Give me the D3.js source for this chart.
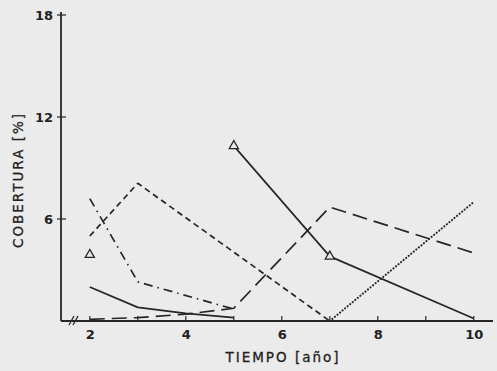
<!DOCTYPE html>
<html><head><meta charset="utf-8">
<script src="https://cdn.jsdelivr.net/npm/d3@7"></script>
<style>
html,body{margin:0;padding:0;background:#ebebeb;}
svg{display:block;}
text{font-family:"DejaVu Sans",sans-serif;fill:#222;}
</style></head><body>
<svg id="c" width="497" height="371"></svg>
<script>
const xTicks = [2, 4, 6, 8, 10];
const xMinorTicks = [3, 5, 7, 9];
const yTicks = [6, 12, 18];
// series values [year, cover %]
const shortDash = [[2, 5.0], [3, 8.1], [7, 0.0]];
const dashDot = [[2, 7.2], [3, 2.3], [5, 0.7]];
const solidLow = [[2, 2.0], [3, 0.8], [4, 0.45], [5, 0.2]];
const longDash = [[2, 0.1], [3, 0.2], [4, 0.4], [5, 0.75], [7, 6.7], [10, 4.0]];
const solidTri = [[5, 10.3], [7, 3.8], [10, 0.15]];
const triPoints = [[2, 3.9], [5, 10.3], [7, 3.8]];
const dotted = [[7, 0.0], [10, 7.0]];

const svg = d3.select("#c");
const x = d3.scaleLinear().domain([1.4, 10.4]).range([61, 493]);
const y = d3.scaleLinear().domain([0, 18]).range([321, 15]);
const ink = "#262626";

// axes
const gx = svg.append("g").attr("transform", "translate(0," + y(0) + ")");
gx.call(d3.axisBottom(x).tickValues(xTicks).tickSize(0).tickPadding(9).tickFormat(d3.format("d")));
gx.select(".domain").remove();
gx.selectAll("text").attr("font-size", 13).attr("font-weight", "bold").attr("fill", "#222");
svg.append("line").attr("x1", x(1.4)).attr("x2", 493).attr("y1", y(0)).attr("y2", y(0))
  .attr("stroke", ink).attr("stroke-width", 1.8);
svg.selectAll(".xt").data(xTicks.concat(xMinorTicks)).enter().append("line")
  .attr("x1", d => x(d)).attr("x2", d => x(d)).attr("y1", y(0)).attr("y2", y(0) - 5)
  .attr("stroke", ink).attr("stroke-width", 1.2);

const gy = svg.append("g").attr("transform", "translate(" + x(1.4) + ",0)");
gy.call(d3.axisLeft(y).tickValues(yTicks).tickSize(0).tickPadding(8).tickFormat(d3.format("d")));
gy.select(".domain").remove();
gy.selectAll("text").attr("font-size", 13).attr("font-weight", "bold").attr("fill", "#222");
svg.append("line").attr("x1", x(1.4)).attr("x2", x(1.4)).attr("y1", 12).attr("y2", y(0))
  .attr("stroke", ink).attr("stroke-width", 1.8);
svg.selectAll(".yt").data(yTicks).enter().append("line")
  .attr("x1", x(1.4) - 4).attr("x2", x(1.4) + 5).attr("y1", d => y(d)).attr("y2", d => y(d))
  .attr("stroke", ink).attr("stroke-width", 1.2);

// axis break marks
[0, 4].forEach(o => {
  svg.append("line").attr("x1", 69 + o).attr("x2", 74 + o).attr("y1", y(0) + 4).attr("y2", y(0) - 5)
    .attr("stroke", ink).attr("stroke-width", 1.3);
});

// axis titles
svg.append("text").attr("x", 283).attr("y", 362).attr("text-anchor", "middle")
  .attr("font-size", 13.5).attr("letter-spacing", 2).attr("stroke", "#222").attr("stroke-width", 0.3)
  .text("TIEMPO [año]");
svg.append("text").attr("transform", "translate(23,180) rotate(-90)").attr("text-anchor", "middle")
  .attr("font-size", 13.5).attr("letter-spacing", 2).attr("stroke", "#222").attr("stroke-width", 0.3)
  .text("COBERTURA [%]");

const line = d3.line().x(d => x(d[0])).y(d => y(d[1]));
function draw(data, dash, w, cap) {
  svg.append("path").attr("d", line(data)).attr("fill", "none").attr("stroke", ink)
    .attr("stroke-width", w || 1.7).attr("stroke-dasharray", dash || null)
    .attr("stroke-linecap", cap || "butt").attr("stroke-linejoin", "round");
}
draw(shortDash, "6,4");
draw(dashDot, "9,5,1.5,5");
draw(solidLow, null);
draw(longDash, "15,7");
draw(solidTri, null);
draw(dotted, "0.1,3.2", 2.1, "round");

// triangle markers
const tri = d3.symbol().type(d3.symbolTriangle).size(36);
svg.selectAll(".tri").data(triPoints).enter().append("path")
  .attr("d", tri).attr("transform", d => "translate(" + x(d[0]) + "," + y(d[1]) + ")")
  .attr("fill", "#ebebeb").attr("stroke", ink).attr("stroke-width", 1.3);
</script>
</body></html>
